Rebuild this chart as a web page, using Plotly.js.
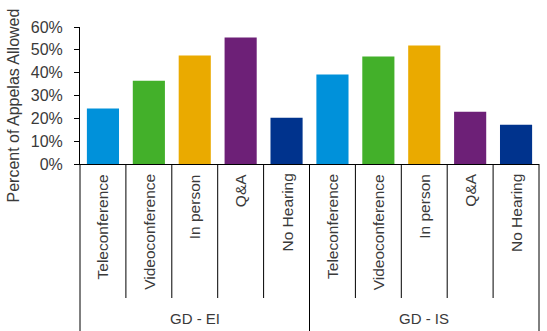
<!DOCTYPE html>
<html>
<head>
<meta charset="utf-8">
<script src="https://cdn.plot.ly/plotly-3.0.1.min.js"></script>
<style>
html,body{margin:0;padding:0;background:#fff;}
#chart{width:547px;height:331px;}
</style>
</head>
<body>
<div id="chart"></div>
<script>
var groups = ["GD - EI", "GD - IS"];
var modes = ["Teleconference", "Videoconference", "In person", "Q&A", "No Hearing"];
var modeColors = ["#0091DA", "#43B02A", "#EAAA00", "#6D2077", "#00338D"];
var valuesEI = [0.243, 0.365, 0.475, 0.554, 0.203];
var valuesIS = [0.392, 0.471, 0.519, 0.229, 0.172];
var allValues = [valuesEI, valuesIS];

var xs = [], ys = [], cols = [], labels = [];
groups.forEach(function (g, gi) {
  modes.forEach(function (m, mi) {
    xs.push(gi * modes.length + mi);
    ys.push(allValues[gi][mi]);
    cols.push(modeColors[mi]);
    labels.push(m);
  });
});
var n = xs.length;

var trace = {
  type: "bar",
  x: xs,
  y: ys,
  marker: {color: cols, line: {width: 0}},
  hoverinfo: "skip"
};

var plotH = 137;
var font = "Liberation Sans, Arial, sans-serif";
var txtCol = "#3a3a3a";

var annotations = [];
labels.forEach(function (lab, i) {
  annotations.push({
    x: xs[i], xref: "x", y: 0, yref: "paper",
    yshift: -8, text: lab, textangle: -90, showarrow: false,
    xanchor: "center", yanchor: "top",
    font: {family: font, size: 15.5, color: txtCol}
  });
});
groups.forEach(function (g, gi) {
  annotations.push({
    x: (gi + 0.5) / groups.length, xref: "paper", y: 0, yref: "paper",
    yshift: -154, text: g, showarrow: false,
    xanchor: "center", yanchor: "middle",
    font: {family: font, size: 15, color: txtCol}
  });
});
annotations.push({
  x: 0, xref: "paper", xshift: -67, y: 0.5, yref: "paper", yshift: -10,
  text: "Percent of Appelas Allowed", textangle: -90, showarrow: false,
  xanchor: "center", yanchor: "middle",
  font: {family: font, size: 16, color: txtCol}
});

var shapes = [];
for (var k = 0; k <= n; k++) {
  var isOuter = (k % modes.length === 0);
  shapes.push({
    type: "line", xref: "paper", yref: "paper",
    x0: k / n, x1: k / n, y0: 0,
    y1: isOuter ? -167 / plotH : -134 / plotH,
    line: {color: "#000", width: 1}
  });
}

var layout = {
  width: 547, height: 331,
  margin: {l: 80, r: 8, t: 27, b: 167, pad: 0},
  paper_bgcolor: "#fff", plot_bgcolor: "#fff",
  showlegend: false,
  bargap: 0.3,
  xaxis: {
    range: [-0.5, n - 0.5], showticklabels: false, ticks: "",
    showgrid: false, zeroline: false, showline: true,
    linecolor: "#000", linewidth: 1, fixedrange: true
  },
  yaxis: {
    range: [0, 0.6], dtick: 0.1, tickformat: ".0%",
    showgrid: false, zeroline: false, showline: true,
    linecolor: "#000", linewidth: 1, ticks: "outside",
    ticklen: 5, tickcolor: "#000", ticklabelstandoff: 8,
    tickfont: {family: font, size: 16, color: txtCol}, fixedrange: true
  },
  annotations: annotations,
  shapes: shapes
};

Plotly.newPlot("chart", [trace], layout, {displayModeBar: false, staticPlot: true});
</script>
</body>
</html>
